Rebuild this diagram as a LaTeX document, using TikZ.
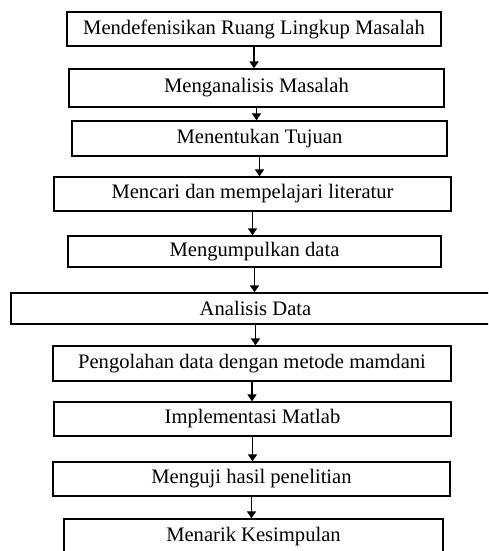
\documentclass[tikz,border=0pt]{standalone}
\usepackage{fontspec}
\setmainfont{Liberation Serif}
\usetikzlibrary{arrows.meta}

\begin{document}
\begin{tikzpicture}[x=1pt, y=-1pt, thick,
    stepbox/.style = {draw, rectangle, line width=1.3pt, inner sep=0pt,
                      font=\fontsize{20.6}{24}\selectfont},
    flow/.style = {line width=1.5pt, -{Triangle[length=7pt,width=9pt]}}]
    \useasboundingbox (0,0) rectangle (488,551);
    \clip (0,0) rectangle (488,551);
        % Nodes
        \node[stepbox, minimum width=374, minimum height=34] (S1) at (254,29) {Mendefenisikan Ruang Lingkup Masalah};
        \node[stepbox, minimum width=375, minimum height=38] (S2) at (256.5,88) {Menganalisis Masalah};
        \node[stepbox, minimum width=375, minimum height=35] (S3) at (259.5,138.5) {Menentukan Tujuan};
        \node[stepbox, minimum width=397, minimum height=34] (S4) at (252.5,194) {Mencari dan mempelajari literatur};
        \node[stepbox, minimum width=373, minimum height=31] (S5) at (254.5,251.5) {Mengumpulkan data};
        \node[stepbox, minimum width=489, minimum height=31] (S6) at (255.5,308.5) {Analisis Data};
        \node[stepbox, minimum width=398, minimum height=35] (S7) at (252,363.5) {Pengolahan data dengan metode mamdani};
        \node[stepbox, minimum width=397, minimum height=34] (S8) at (252.5,419) {Implementasi Matlab};
        \node[stepbox, minimum width=397, minimum height=34] (S9) at (251.5,479) {Menguji hasil penelitian};
        \node[stepbox, minimum width=379, minimum height=36] (S10) at (253.5,537) {Menarik Kesimpulan};

        % Lines
        \draw[flow] (S1.south) -- (S1.south |- S2.north);
        \draw[flow] (S2.south) -- (S2.south |- S3.north);
        \draw[flow] (S3.south) -- (S3.south |- S4.north);
        \draw[flow] (S4.south) -- (S4.south |- S5.north);
        \draw[flow] (S5.south) -- (S5.south |- S6.north);
        \draw[flow] (S6.south) -- (S6.south |- S7.north);
        \draw[flow] (S7.south) -- (S7.south |- S8.north);
        \draw[flow] (S8.south) -- (S8.south |- S9.north);
        \draw[flow] (S9.south) -- (S9.south |- S10.north);
\end{tikzpicture}
\end{document}
